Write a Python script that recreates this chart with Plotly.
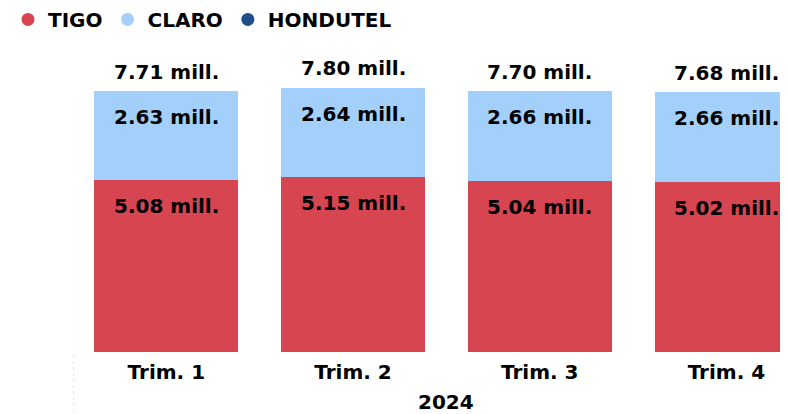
import plotly.graph_objects as go

year = "2024"
quarters = ["Trim. 1", "Trim. 2", "Trim. 3", "Trim. 4"]
tigo = [5.08, 5.15, 5.04, 5.02]
claro = [2.63, 2.64, 2.66, 2.66]
hondutel = [0.0, 0.0, 0.0, 0.0]
totals = [7.71, 7.80, 7.70, 7.68]

RED = "#D64550"
LIGHT = "#A3D0FB"
DARK = "#1F4E89"
FONT = "DejaVu Sans"

fig = go.Figure()
for name, vals, col in [("TIGO", tigo, RED), ("CLARO", claro, LIGHT), ("HONDUTEL", hondutel, DARK)]:
    fig.add_trace(go.Bar(x=quarters, y=vals, name=name, marker_color=col,
                         marker_line_width=0, showlegend=False))
    # circle markers for the legend
    fig.add_trace(go.Scatter(x=[None], y=[None], mode="markers", name=f"<b>{name}</b>",
                             marker=dict(color=col, size=13, symbol="circle")))

# labels at the top of each segment
for i, q in enumerate(quarters):
    fig.add_annotation(x=q, y=tigo[i], text=f"<b>{tigo[i]:.2f} mill.</b>",
                       showarrow=False, yanchor="top", yshift=-12)
    fig.add_annotation(x=q, y=tigo[i] + claro[i], text=f"<b>{claro[i]:.2f} mill.</b>",
                       showarrow=False, yanchor="top", yshift=-12)
    fig.add_annotation(x=q, y=totals[i], text=f"<b>{totals[i]:.2f} mill.</b>",
                       showarrow=False, yanchor="bottom", yshift=5)

# year group label, centred under the four quarters
fig.add_annotation(x=(len(quarters) - 1) / 2, xref="x", y=0, yref="paper", text=f"<b>{year}</b>",
                   showarrow=False, yanchor="middle", yshift=-50)
# group divider on the left
fig.add_shape(type="line", xref="x", yref="paper", x0=-0.5, x1=-0.5, y0=-0.01, y1=-0.2,
              line=dict(color="#cccccc", width=1, dash="dot"))

fig.update_layout(
    barmode="stack",
    bargap=0.23,
    width=780, height=406,
    margin=dict(l=65, r=0, t=32, b=62, autoexpand=False),
    plot_bgcolor="white", paper_bgcolor="white",
    font=dict(family=FONT, size=20, color="black"),
    legend=dict(orientation="h", x=-0.0909, xanchor="left", y=1.066, yanchor="middle",
                font=dict(size=20, family=FONT, color="black"), itemwidth=30,
                traceorder="normal"),
)
fig.update_annotations(font=dict(family=FONT, size=20, color="black"))
fig.update_xaxes(type="category", range=[-0.5, 3.33], showline=False, ticks="",
                 automargin=False, ticklabelstandoff=6,
                 tickfont=dict(family=FONT, size=20, color="black", weight="bold"))
fig.update_yaxes(range=[0, 9.2], visible=False, showgrid=False, automargin=False)

fig.write_html("out.html")
